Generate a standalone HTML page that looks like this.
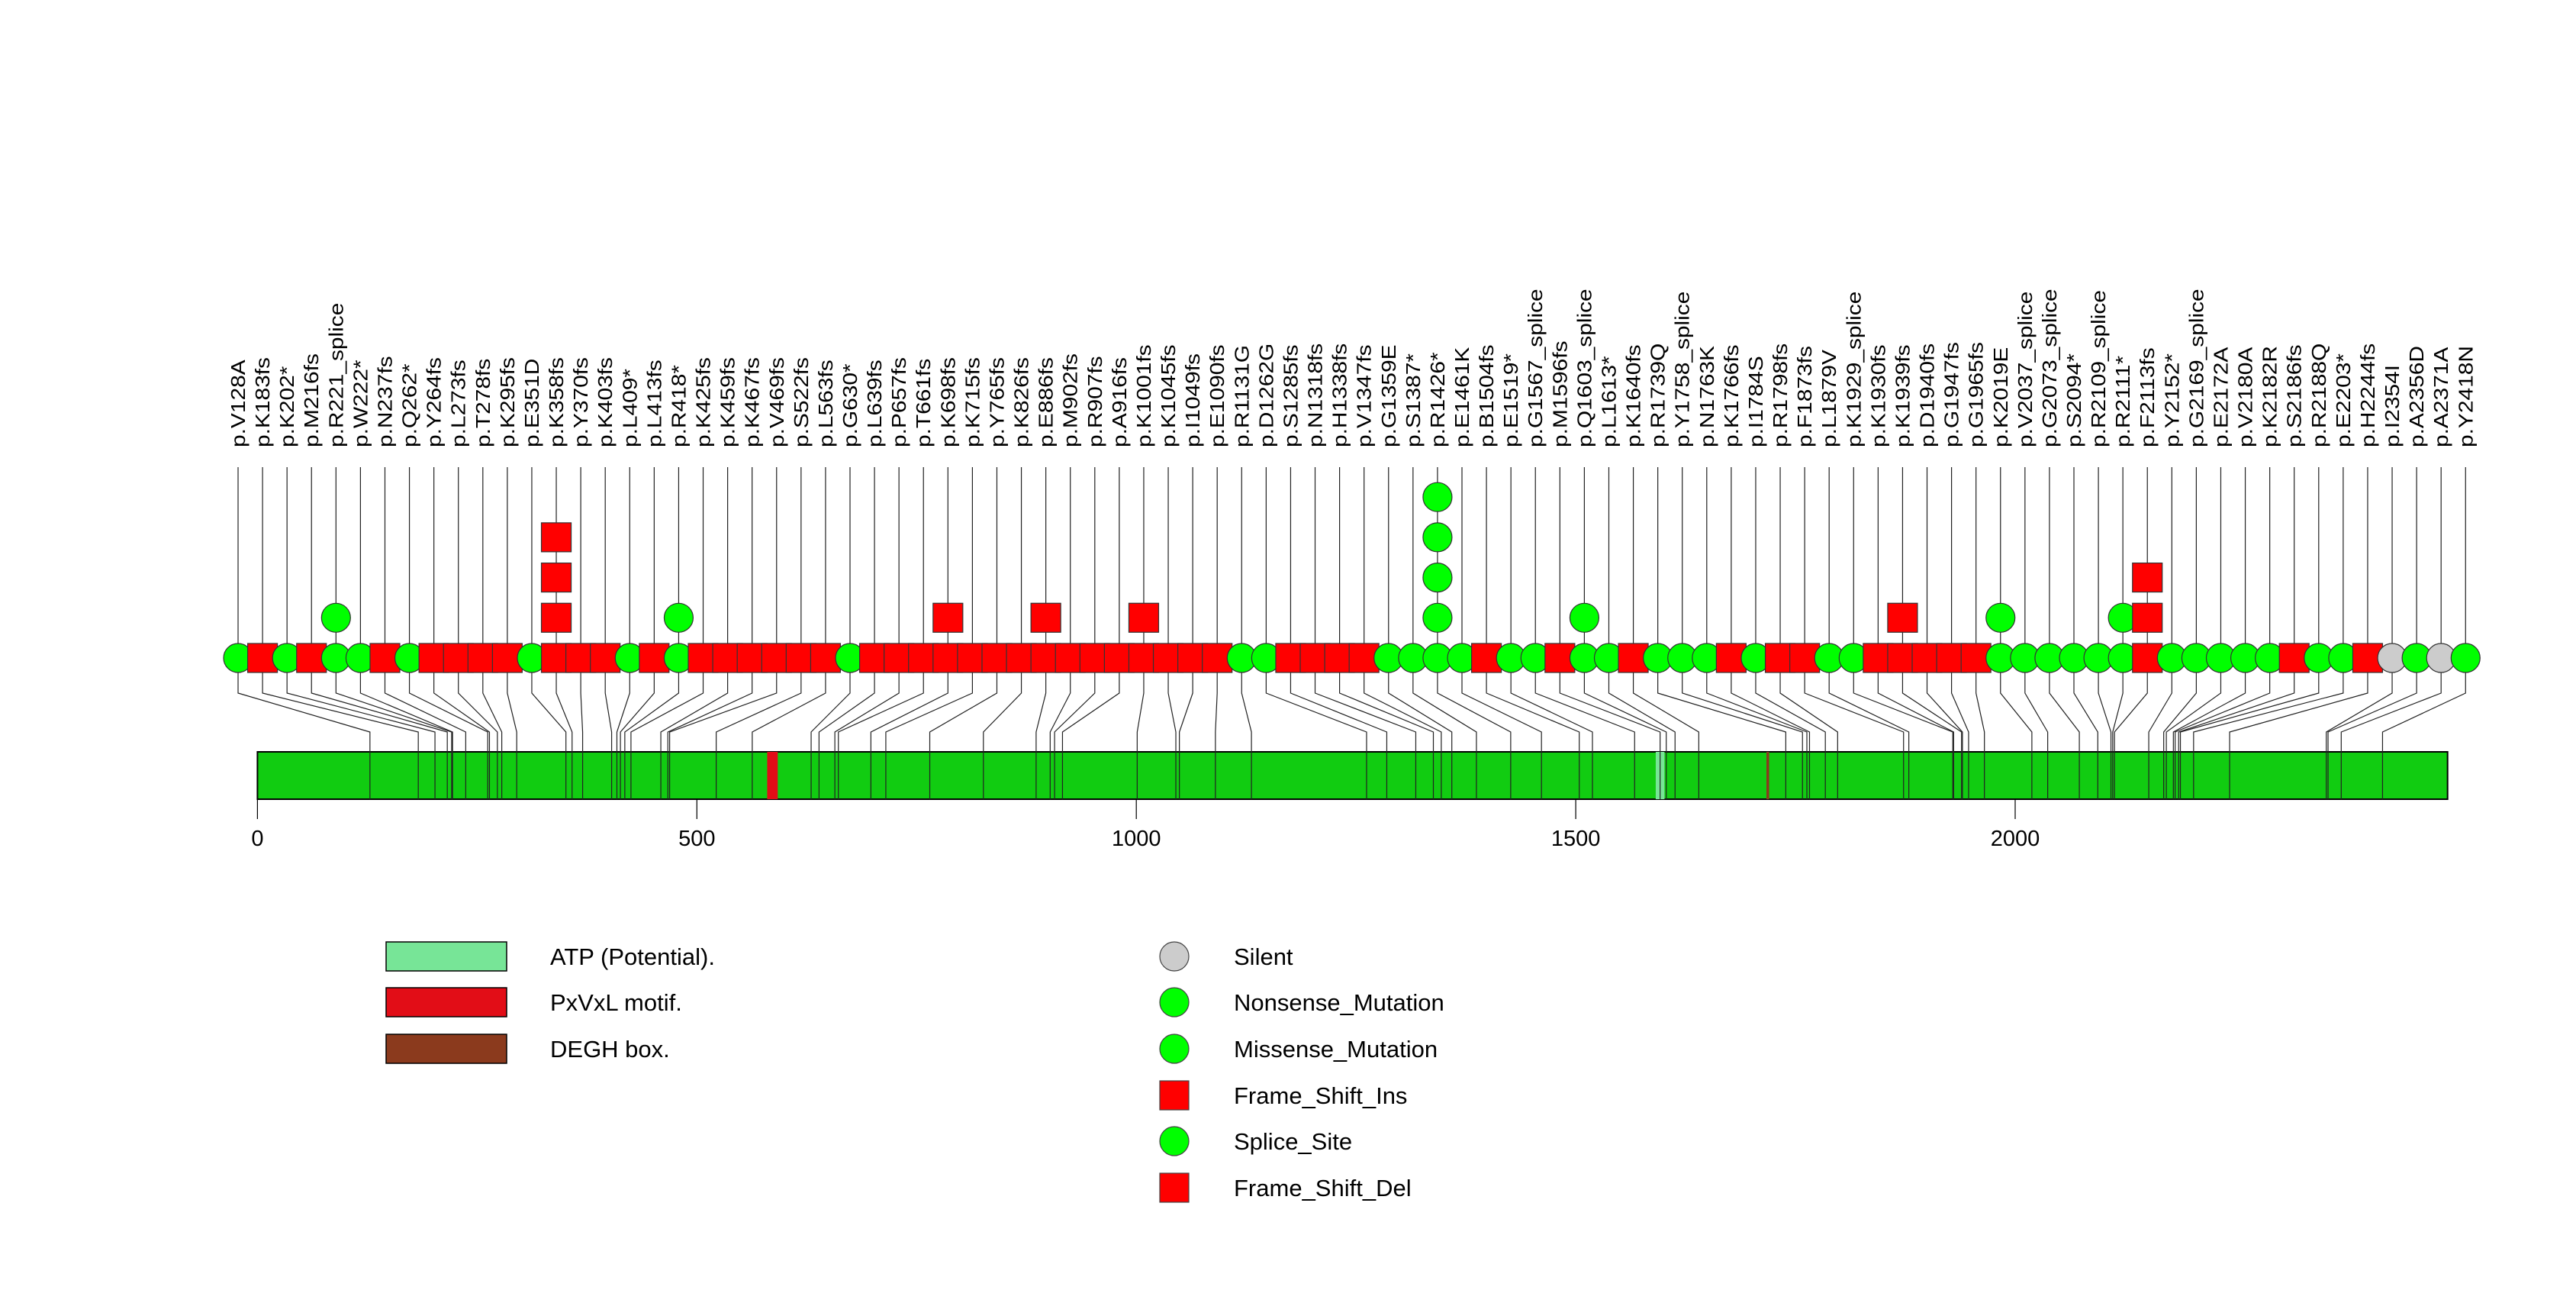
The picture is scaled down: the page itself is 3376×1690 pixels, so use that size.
<!DOCTYPE html>
<html><head><meta charset="utf-8">
<style>
html,body{margin:0;padding:0;background:#fff;}
svg{display:block;font-family:"Liberation Sans",sans-serif;}
</style></head>
<body>
<svg id="chart" width="3376" height="1690" viewBox="0 0 3376 1690" xmlns="http://www.w3.org/2000/svg">
<g id="protein"></g>
<g id="lines"></g>
<g id="axis"></g>
<g id="markers"></g>
<g id="labels"></g>
<g id="legend">
  <rect x="506" y="1234" width="158" height="38" fill="#77e597" stroke="#000" stroke-width="1.5"/>
  <text x="721" y="1264" font-size="31">ATP (Potential).</text>
  <rect x="506" y="1294" width="158" height="38" fill="#e20d17" stroke="#000" stroke-width="1.5"/>
  <text x="721" y="1324" font-size="31">PxVxL motif.</text>
  <rect x="506" y="1355" width="158" height="38" fill="#8b3a1d" stroke="#000" stroke-width="1.5"/>
  <text x="721" y="1385" font-size="31">DEGH box.</text>
  <circle cx="1539" cy="1253" r="19" fill="#cccccc" stroke="#444" stroke-width="1.2"/>
  <text x="1617" y="1264" font-size="31">Silent</text>
  <circle cx="1539" cy="1313" r="19" fill="#00ff00" stroke="#444" stroke-width="1.2"/>
  <text x="1617" y="1324" font-size="31">Nonsense_Mutation</text>
  <circle cx="1539" cy="1374" r="19" fill="#00ff00" stroke="#444" stroke-width="1.2"/>
  <text x="1617" y="1385" font-size="31">Missense_Mutation</text>
  <rect x="1520" y="1416" width="38" height="38" fill="#ff0000" stroke="#444" stroke-width="1.2"/>
  <text x="1617" y="1446" font-size="31">Frame_Shift_Ins</text>
  <circle cx="1539" cy="1495" r="19" fill="#00ff00" stroke="#444" stroke-width="1.2"/>
  <text x="1617" y="1506" font-size="31">Splice_Site</text>
  <rect x="1520" y="1537" width="38" height="38" fill="#ff0000" stroke="#444" stroke-width="1.2"/>
  <text x="1617" y="1567" font-size="31">Frame_Shift_Del</text>
</g>
</svg>
<script>
const labels = ["p.V128A","p.K183fs","p.K202*","p.M216fs","p.R221_splice","p.W222*","p.N237fs","p.Q262*","p.Y264fs","p.L273fs","p.T278fs","p.K295fs","p.E351D","p.K358fs","p.Y370fs","p.K403fs","p.L409*","p.L413fs","p.R418*","p.K425fs","p.K459fs","p.K467fs","p.V469fs","p.S522fs","p.L563fs","p.G630*","p.L639fs","p.P657fs","p.T661fs","p.K698fs","p.K715fs","p.Y765fs","p.K826fs","p.E886fs","p.M902fs","p.R907fs","p.A916fs","p.K1001fs","p.K1045fs","p.I1049fs","p.E1090fs","p.R1131G","p.D1262G","p.S1285fs","p.N1318fs","p.H1338fs","p.V1347fs","p.G1359E","p.S1387*","p.R1426*","p.E1461K","p.B1504fs","p.E1519*","p.G1567_splice","p.M1596fs","p.Q1603_splice","p.L1613*","p.K1640fs","p.R1739Q","p.Y1758_splice","p.N1763K","p.K1766fs","p.I1784S","p.R1798fs","p.F1873fs","p.L1879V","p.K1929_splice","p.K1930fs","p.K1939fs","p.D1940fs","p.G1947fs","p.G1965fs","p.K2019E","p.V2037_splice","p.G2073_splice","p.S2094*","p.R2109_splice","p.R2111*","p.F2113fs","p.Y2152*","p.G2169_splice","p.E2172A","p.V2180A","p.K2182R","p.S2186fs","p.R2188Q","p.E2203*","p.H2244fs","p.I2354I","p.A2356D","p.A2371A","p.Y2418N"];
const counts = [1,1,1,1,2,1,1,1,1,1,1,1,1,4,1,1,1,1,2,1,1,1,1,1,1,1,1,1,1,2,1,1,1,2,1,1,1,2,1,1,1,1,1,1,1,1,1,1,1,5,1,1,1,1,1,2,1,1,1,1,1,1,1,1,1,1,1,1,2,1,1,1,2,1,1,1,1,2,3,1,1,1,1,1,1,1,1,1,1,1,1,1];
const proteinLength = 2492;
const domainStarts = [580, 1591, 1717];
const domainEnds = [592, 1601, 1720];
const domainColors = ["#e20d17","#77e597","#8b3a1d"];
const ticks = [0,500,1000,1500,2000];

const NS="http://www.w3.org/2000/svg";
function mk(tag, attrs, parent){const e=document.createElementNS(NS,tag);for(const k in attrs)e.setAttribute(k,attrs[k]);parent.appendChild(e);return e;}
const x0=337.4, pxPerAa=1.1518;
function xAa(a){return x0+a*pxPerAa;}
function slotX(i){return 312+i*32.08;}
function rowY(r){return 862-r*52.7;}
function posOf(l){const m=l.match(/[A-Z*](\d+)/);return +m[1];}
function typeOf(l){if(/fs$/.test(l))return "fs"; if(/_splice$/.test(l))return "splice"; const m=l.match(/^p\.([A-Z])\d+([A-Z*])$/); if(m&&m[1]===m[2])return "silent"; return "point";}

const gL=document.getElementById('lines'), gP=document.getElementById('protein'), gA=document.getElementById('axis'), gM=document.getElementById('markers'), gT=document.getElementById('labels');

const bar=mk('rect',{x:xAa(0),y:985,width:xAa(proteinLength)-xAa(0),height:62,fill:'#11cc11',stroke:'#000','stroke-width':2},gP);


domainStarts.forEach((s,i)=>{
  const d=mk('rect',{x:xAa(s),y:985,width:xAa(domainEnds[i])-xAa(s),height:62,fill:domainColors[i]},gP);
  
  
});

labels.forEach((l,i)=>{
  const sx=slotX(i), ax=xAa(posOf(l));
  const ln=mk('polyline',{points:`${sx},612 ${sx},908 ${ax},959 ${ax},1047`,fill:'none',stroke:'#222','stroke-width':1.2},gL);
  
  
  const t=typeOf(l);
  for(let r=0;r<counts[i];r++){
    const cy=rowY(r);
    let m;
    if(t==='fs'){m=mk('rect',{x:sx-19.5,y:cy-19,width:39,height:38,fill:'#ff0000',stroke:'#333','stroke-width':1.2},gM);}
    else{m=mk('ellipse',{cx:sx,cy:cy,rx:19,ry:19,fill:t==='silent'?'#cccccc':'#00ff00',stroke:'#333','stroke-width':1.2},gM);}
    
    
  }
  const tx=mk('text',{transform:`translate(${sx+9},586) rotate(-90) scale(1.15,1)`,'font-size':26},gT);
  tx.textContent=l;
  
  
});

ticks.forEach(v=>{
  const x=xAa(v);
  const tl=mk('line',{x1:x,y1:1047,x2:x,y2:1073,stroke:'#000','stroke-width':1.2},gA);
  
  
  const tt=mk('text',{x:x,y:1108,'font-size':29,'text-anchor':'middle'},gA);
  tt.textContent=String(v);
  
  
});
</script>
</body></html>
